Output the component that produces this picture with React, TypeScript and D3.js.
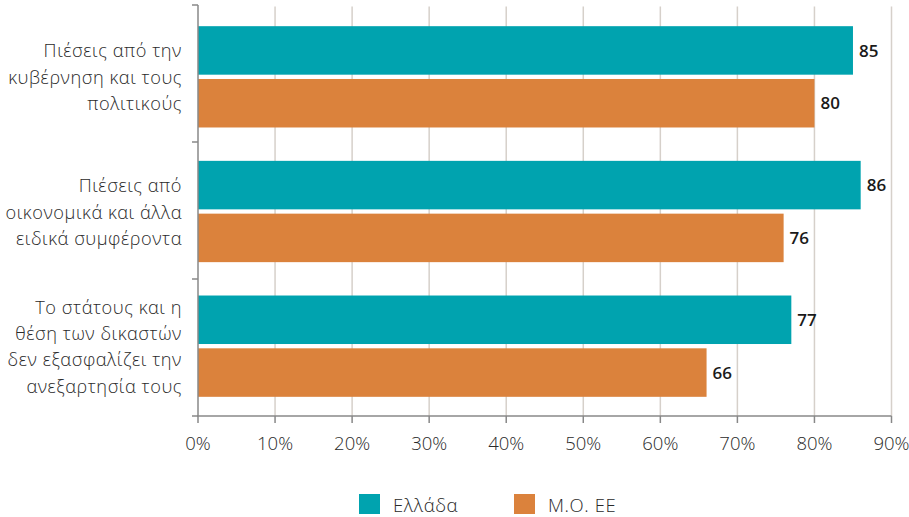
import React from "react";
import * as d3 from "d3";

const categories: string[][] = [
  ["Πιέσεις από την", "κυβέρνηση και τους", "πολιτικούς"],
  ["Πιέσεις από", "οικονομικά και άλλα", "ειδικά συμφέροντα"],
  ["Το στάτους και η", "θέση των δικαστών", "δεν εξασφαλίζει την", "ανεξαρτησία τους"],
];
const seriesNames = ["Ελλάδα", "Μ.Ο. ΕΕ"];
const greece = [85, 86, 77];
const euAverage = [80, 76, 66];
const xTicks = [0, 10, 20, 30, 40, 50, 60, 70, 80, 90];
const colors = ["#00A3AF", "#DB823C"];

const W = 909;
const H = 517;
const labelFont = "'Open Sans', 'Noto Sans', sans-serif";

export default function App() {
  const ids = categories.map((_, i) => String(i));
  const x = d3.scaleLinear().domain([0, 90]).range([198, 891.5]);
  // axis bands (tick marks between categories)
  const yAxis = d3.scaleBand<string>().domain(ids).range([5, 416]);
  // bar groups
  const yGroup = d3.scaleBand<string>().domain(ids).range([9.5, 413.5]);
  const barH = 48.5;
  const gap = 4.3;
  const series = [greece, euAverage];

  const boundaries = [...ids.map((id) => yAxis(id) as number), 416];

  return (
    <svg width={W} height={H} style={{ position: "absolute", left: 0, top: 0 }}>
      <rect width={W} height={H} fill="#fff" />
      {/* vertical gridlines */}
      {xTicks.slice(1).map((t) => (
        <line key={t} x1={x(t)} x2={x(t)} y1={6.5} y2={416} stroke="#d6d0ca" strokeWidth={1.5} />
      ))}
      {/* bars */}
      {ids.map((id, i) => {
        const c = (yGroup(id) as number) + yGroup.bandwidth() / 2;
        return series.map((vals, s) => {
          const y0 = s === 0 ? c - gap / 2 - barH : c + gap / 2;
          return (
            <g key={`${i}-${s}`}>
              <rect x={x(0)} y={y0} width={x(vals[i]) - x(0)} height={barH} fill={colors[s]} />
              <text
                x={x(vals[i]) + 6}
                y={y0 + barH / 2}
                dy="0.36em"
                fontFamily="'Open Sans', sans-serif"
                fontWeight={600}
                fontSize={17}
                fill="#1a1a1a"
              >
                {vals[i]}
              </text>
            </g>
          );
        });
      })}
      {/* y axis */}
      <line x1={198} x2={198} y1={5} y2={416} stroke="#888" strokeWidth={1.5} />
      {boundaries.map((b, i) => (
        <line key={i} x1={192} x2={198} y1={b} y2={b} stroke="#888" strokeWidth={1.5} />
      ))}
      {/* category labels */}
      {categories.map((lines, i) => {
        const c = (yGroup(ids[i]) as number) + yGroup.bandwidth() / 2;
        const lh = 26.4;
        const start = c - ((lines.length - 1) * lh) / 2 + 7;
        return (
          <text
            key={i}
            textAnchor="end"
            fontFamily={labelFont}
            fontWeight={300}
            fontSize={18.2}
            letterSpacing={0.55}
            fill="#2a2a2a"
          >
            {lines.map((ln, k) => (
              <tspan key={k} x={182} y={start + k * lh}>
                {ln}
              </tspan>
            ))}
          </text>
        );
      })}
      {/* x axis */}
      <line x1={197} x2={891.5} y1={416} y2={416} stroke="#888" strokeWidth={1.5} />
      {xTicks.map((t) => (
        <g key={t}>
          <line x1={x(t)} x2={x(t)} y1={416} y2={423} stroke="#888" strokeWidth={1.5} />
          <text x={x(t)} y={450} textAnchor="middle" fontFamily={labelFont} fontWeight={300} fontSize={18.5} fill="#2a2a2a">
            {t}%
          </text>
        </g>
      ))}
      {/* legend */}
      {seriesNames.map((name, s) => {
        const lx = 359 + s * 155;
        return (
          <g key={name}>
            <rect x={lx} y={494} width={21} height={20} fill={colors[s]} />
            <text
              x={lx + 34}
              y={511.5}
              fontFamily={labelFont}
              fontWeight={300}
              fontSize={18.5}
              letterSpacing={0.6}
              fill="#2a2a2a"
            >
              {name}
            </text>
          </g>
        );
      })}
    </svg>
  );
}
